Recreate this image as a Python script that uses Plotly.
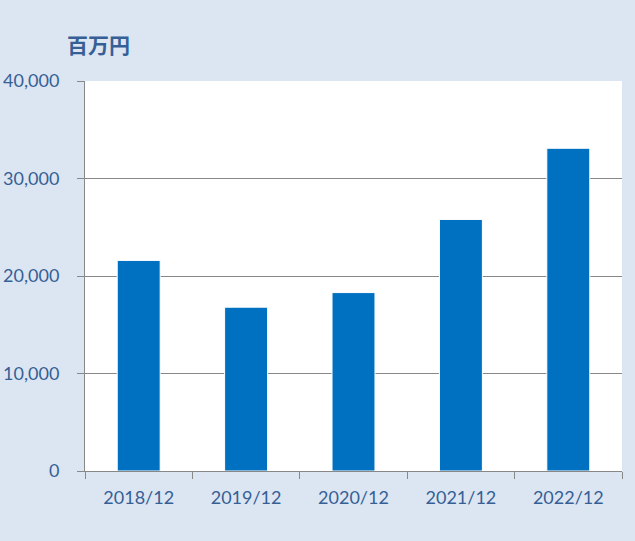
import plotly.graph_objects as go

categories = ["2018/12", "2019/12", "2020/12", "2021/12", "2022/12"]
values = [21600, 16800, 18300, 25800, 33100]
y_ticks = [0, 10000, 20000, 30000, 40000]
y_tick_labels = ["0", "10,000", "20,000", "30,000", "40,000"]

text_color = "#365F96"
fig = go.Figure(go.Bar(x=categories, y=values, marker=dict(color="#0070C0", line=dict(color="white", width=1))))

fig.update_layout(
    width=635, height=541,
    paper_bgcolor="#DCE6F2", plot_bgcolor="white",
    margin=dict(l=85, r=13, t=81, b=70, autoexpand=False),
    bargap=0.6,
    showlegend=False,
    font=dict(family="Lato, sans-serif", size=18, color=text_color),
    annotations=[dict(text="<b>百万円</b>", xref="paper", yref="paper", x=-0.038, y=1.05,
                      xanchor="left", yanchor="bottom", showarrow=False,
                      font=dict(family="Noto Sans CJK JP", size=21, color=text_color))],
)
fig.update_xaxes(type="category", tickson="boundaries", ticks="outside", ticklen=7,
                 tickcolor="#888888", showline=True, linecolor="#888888", linewidth=1,
                 showgrid=False, tickfont=dict(size=18, color=text_color),
                 ticklabelstandoff=10, automargin=False)
fig.update_yaxes(range=[0, 40000], tickvals=y_ticks, ticktext=y_tick_labels,
                 ticks="outside", ticklen=7, tickcolor="#888888",
                 showline=True, linecolor="#888888", linewidth=1,
                 showgrid=True, gridcolor="#888888", gridwidth=1, zeroline=False,
                 tickfont=dict(size=18, color=text_color), ticklabelstandoff=14,
                 automargin=False)
fig.write_html("out.html", config={"displayModeBar": False},
               post_script="document.body.style.margin='0';document.body.style.padding='0';")
